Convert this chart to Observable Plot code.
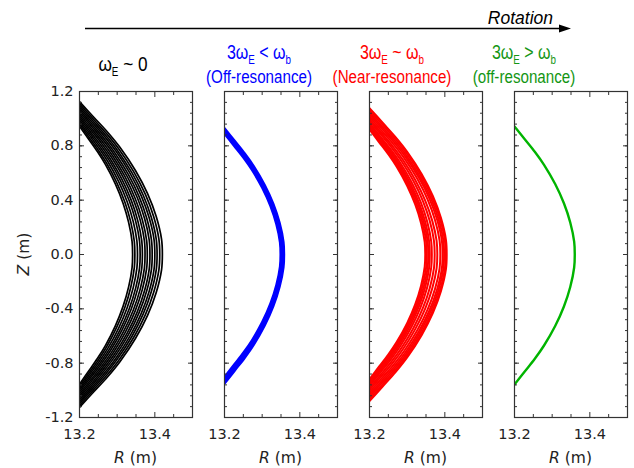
<!DOCTYPE html>
<html><head><meta charset="utf-8">
<script src="https://cdn.jsdelivr.net/npm/d3@7"></script>
<script src="https://cdn.jsdelivr.net/npm/@observablehq/plot@0.6"></script>
<style>
html,body{margin:0;padding:0;background:#fff;}
#wrap{position:relative;width:634px;height:468px;overflow:hidden;background:#fff;}
#wrap > div.p{position:absolute;top:0;}
#wrap svg{max-width:none !important;}
</style></head><body><div id="wrap"></div>
<script>
// ---------- data ----------
const xTickValues = [13.2, 13.4];
const xTickLabels = ["13.2", "13.4"];
const xMinorTicks = [13.25, 13.3, 13.35, 13.45];
const yTickValues = [-1.2, -0.8, -0.4, 0, 0.4, 0.8, 1.2];
const yTickLabels = ["-1.2", "-0.8", "-0.4", "0.0", "0.4", "0.8", "1.2"];

// shape of an orbit: fraction of the Z extent -> fraction of the R extent (read from the green orbit)
const profileS = [0, 0.1, 0.25, 0.4, 0.55, 0.7, 0.8, 0.9, 1];
const profileG = [1, 0.99, 0.925, 0.82, 0.675, 0.49, 0.34, 0.17, 0];

// per-orbit: R at Z=0, Z where it meets R=13.2 (top and bottom)
const blackR0 = [13.341, 13.347, 13.354, 13.361, 13.367, 13.374, 13.380, 13.387, 13.393, 13.400, 13.406, 13.413, 13.420];
const blackZt = [0.945, 0.960, 0.975, 0.990, 1.005, 1.020, 1.035, 1.050, 1.065, 1.080, 1.095, 1.110, 1.125];
const blackZb = [-0.955, -0.970, -0.984, -0.998, -1.012, -1.027, -1.041, -1.055, -1.069, -1.083, -1.097, -1.111, -1.125];

const blueR0 = [13.349, 13.351, 13.353, 13.356, 13.358];
const blueZt = [0.890, 0.900, 0.910, 0.920, 0.930];
const blueZb = [-0.902, -0.914, -0.926, -0.938, -0.950];

const redR0 = [13.348, 13.352, 13.356, 13.360, 13.3655, 13.373, 13.380, 13.388, 13.394, 13.398, 13.402, 13.405];
const redZt = [0.920, 0.932, 0.944, 0.956, 0.968, 0.984, 0.998, 1.014, 1.030, 1.045, 1.062, 1.078];
const redZb = [-0.918, -0.930, -0.942, -0.955, -0.968, -0.984, -0.999, -1.015, -1.031, -1.047, -1.064, -1.080];

const greenR0 = [13.360];
const greenZt = [0.943];
const greenZb = [-0.957];

const panelOrbits = [
  [blackR0, blackZt, blackZb],
  [blueR0, blueZt, blueZb],
  [redR0, redZt, redZb],
  [greenR0, greenZt, greenZb]
];
const lineColors = ["#000000", "#0000ff", "#ff0000", "#00b400"];
const titleColors = ["#000000", "#0000ff", "#ff0000", "#149614"];
const titleLine1 = [
  [["ω", 0], ["E", 1], [" ~ 0", 0]],
  [["3ω", 0], ["E", 1], [" < ω", 0], ["b", 1]],
  [["3ω", 0], ["E", 1], [" ~ ω", 0], ["b", 1]],
  [["3ω", 0], ["E", 1], [" > ω", 0], ["b", 1]]
];
const titleLine2 = ["", "(Off-resonance)", "(Near-resonance)", "(off-resonance)"];
const arrowLabel = "Rotation";

// ---------- layout / style ----------
const frameLeft = [79, 224, 369, 514];
const frameW = 113;
const strokeWidths = [1.7, 2.4, 2.0, 2.4];
const titleCenters = [123, 259, 392, 524];
const titleFont = '"Liberation Sans",Arial,sans-serif';
const tickFont = '"DejaVu Sans",sans-serif';

function orbitRows(R0s, Zts, Zbs) {
  const rows = [];
  R0s.forEach((R0, c) => {
    for (let k = profileS.length - 1; k >= 0; k--)
      rows.push({curve: c, R: 13.2 + profileG[k] * (R0 - 13.2), Z: profileS[k] * Zts[c]});
    for (let k = 1; k < profileS.length; k++)
      rows.push({curve: c, R: 13.2 + profileG[k] * (R0 - 13.2), Z: profileS[k] * Zbs[c]});
  });
  return rows;
}

const wrap = document.getElementById("wrap");
const yMinor = d3.range(31).map(i => +(-1.2 + i * 0.08).toFixed(2));

panelOrbits.forEach((orb, i) => {
  const ml = i === 0 ? 79 : 20, mr = 6;
  const rows = orbitRows(...orb);
  const axisStyle = {stroke: "#333", strokeWidth: 1};
  const marks = [
    Plot.line(rows, {x: "R", y: "Z", z: "curve", stroke: lineColors[i], strokeWidth: strokeWidths[i], curve: "catmull-rom", clip: true}),
    Plot.frame({stroke: "#333", strokeWidth: 1.2}),
    Plot.axisX(xMinorTicks, {anchor: "bottom", tickSize: -3, fill: "none", ...axisStyle}),
    Plot.axisX(xTickValues, {anchor: "bottom", tickSize: -5, fill: "none", ...axisStyle}),
    Plot.axisX(xMinorTicks, {anchor: "top", tickSize: -3, fill: "none", ...axisStyle}),
    Plot.axisX(xTickValues, {anchor: "top", tickSize: -5, fill: "none", ...axisStyle}),
    Plot.axisY(yMinor, {anchor: "left", tickSize: -3, fill: "none", ...axisStyle}),
    Plot.axisY(yTickValues, {anchor: "left", tickSize: -5, fill: "none", ...axisStyle}),
    Plot.axisY(yMinor, {anchor: "right", tickSize: -3, fill: "none", ...axisStyle}),
    Plot.axisY(yTickValues, {anchor: "right", tickSize: -5, fill: "none", ...axisStyle}),
    Plot.axisX(xTickValues, {anchor: "bottom", tickSize: 0, tickPadding: 11, label: null, fill: "#222",
      tickFormat: d => xTickLabels[xTickValues.indexOf(d)]})
  ];
  if (i === 0) marks.push(Plot.axisY(yTickValues, {anchor: "left", tickSize: 0, tickPadding: 6, label: null, fill: "#222",
      tickFormat: d => yTickLabels[yTickValues.indexOf(d)]}));
  const chart = Plot.plot({
    width: ml + frameW + mr, height: 468,
    marginLeft: ml, marginRight: mr, marginTop: 91, marginBottom: 51,
    x: {domain: [13.2, 13.5]},
    y: {domain: [-1.2, 1.2]},
    style: {background: "transparent", overflow: "visible", fontFamily: tickFont, fontSize: "14.5px", color: "#222", maxWidth: "none"},
    marks
  });
  const d = document.createElement("div");
  d.className = "p";
  d.style.left = (frameLeft[i] - ml) + "px";
  d.style.width = (ml + frameW + mr) + "px";
  d.appendChild(chart);
  wrap.appendChild(d);
});

// ---------- annotation overlay ----------
const ov = d3.select(wrap).append("svg").attr("width", 634).attr("height", 468)
  .style("position", "absolute").style("left", "0px").style("top", "0px").style("pointer-events", "none");
ov.append("line").attr("x1", 85).attr("y1", 28.5).attr("x2", 562).attr("y2", 28.5).attr("stroke", "#000").attr("stroke-width", 1.3);
ov.append("path").attr("d", "M571,28.5 L559,24.5 L559,32.5 Z").attr("fill", "#000");
ov.append("text").attr("x", 553).attr("y", 23.5).attr("text-anchor", "end")
  .style("font-family", '"Liberation Sans",Arial,sans-serif').style("font-style", "italic").style("font-size", "17.5px")
  .text(arrowLabel);

const narrow = 0.82;
titleLine1.forEach((segs, i) => {
  const big = i === 0;
  const t = ov.append("text").attr("transform", `translate(${titleCenters[i]},${big ? 71 : 59}) scale(${narrow},1)`)
    .attr("text-anchor", "middle")
    .style("font-family", titleFont).style("font-size", big ? "21px" : "19.5px").attr("fill", titleColors[i]);
  let shifted = false;
  segs.forEach(([s, sub]) => {
    const ts = t.append("tspan").text(s);
    if (sub) { ts.attr("dy", shifted ? 0 : 5).style("font-size", "12px"); shifted = true; }
    else if (shifted) { ts.attr("dy", -5); shifted = false; }
  });
  if (titleLine2[i]) {
    ov.append("text").attr("transform", `translate(${titleCenters[i]},83) scale(${narrow},1)`).attr("text-anchor", "middle")
      .style("font-family", titleFont).style("font-size", "18.5px").attr("fill", titleColors[i]).text(titleLine2[i]);
  }
});

frameLeft.forEach(fl => {
  const t = ov.append("text").attr("x", fl + frameW / 2).attr("y", 463).attr("text-anchor", "middle")
    .style("font-family", tickFont).style("font-size", "15.5px").attr("fill", "#222");
  t.append("tspan").style("font-style", "italic").text("R");
  t.append("tspan").text(" (m)");
});
const zt = ov.append("text").attr("transform", "translate(29,254) rotate(-90)").attr("text-anchor", "middle")
  .style("font-family", tickFont).style("font-size", "15.5px").attr("fill", "#222");
zt.append("tspan").style("font-style", "italic").text("Z");
zt.append("tspan").text(" (m)");
</script></body></html>
